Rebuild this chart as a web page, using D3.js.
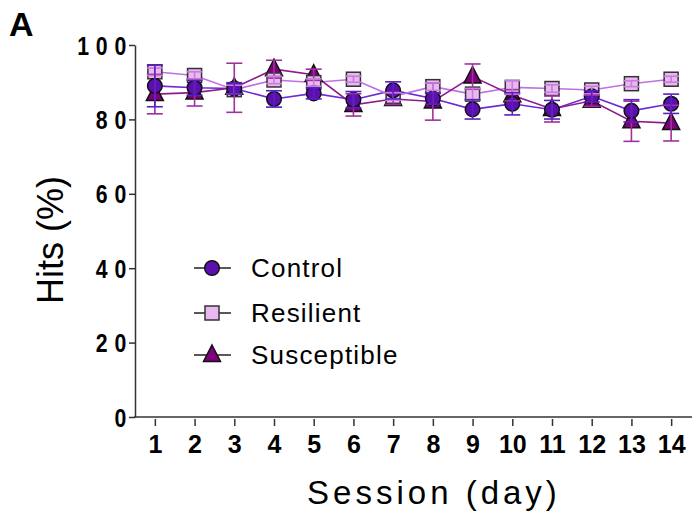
<!DOCTYPE html>
<html><head><meta charset="utf-8">
<script src="https://cdn.jsdelivr.net/npm/d3@7"></script>
<style>body{margin:0;background:#fff}</style>
</head><body><svg id="c" width="692" height="521"></svg>
<script>
const sessions = [1,2,3,4,5,6,7,8,9,10,11,12,13,14];
const yTicks = [0,20,40,60,80,100];
const seriesNames = ["Control","Resilient","Susceptible"];
const controlMean = [89.0, 88.5, 88.3, 85.5, 87.0, 85.3, 87.8, 85.6, 82.7, 84.2, 82.6, 86.2, 82.3, 84.2];
const controlSem  = [5.6, 2.0, 1.5, 2.2, 1.5, 2.2, 2.3, 1.5, 2.6, 3.0, 2.5, 1.5, 3.0, 2.6];
const resilientMean = [92.8, 91.8, 88.0, 90.6, 89.9, 90.8, 86.2, 88.8, 86.8, 88.6, 88.3, 87.9, 89.6, 90.8];
const resilientSem  = [1.0, 1.0, 1.2, 1.0, 1.0, 0.8, 1.0, 1.0, 1.5, 1.8, 1.0, 1.0, 0.8, 0.8];
const susceptibleMean = [86.8, 87.2, 88.5, 93.5, 92.0, 83.9, 85.5, 84.8, 91.5, 86.5, 82.8, 85.0, 79.5, 79.0];
const susceptibleSem  = [5.3, 3.6, 6.6, 2.4, 1.5, 3.0, 1.5, 5.0, 3.4, 1.5, 3.5, 1.5, 5.4, 4.8];

const series = [
  {name:seriesNames[0], mean:controlMean, sem:controlSem, shape:"circle", fill:"#5a0fae", line:"#6a2ad6", err:"#5a1fc0"},
  {name:seriesNames[1], mean:resilientMean, sem:resilientSem, shape:"square", fill:"#e9b8f0", line:"#c070e0", err:"#c77ddb"},
  {name:seriesNames[2], mean:susceptibleMean, sem:susceptibleSem, shape:"triangle", fill:"#7d007d", line:"#8e1a8e", err:"#a0309f"}
];

const FONT = "'Liberation Sans',Arial,Helvetica,sans-serif";
const svg = d3.select("#c");
const x = d3.scaleLinear().domain([0.5,14.5]).range([135,691]);
const y = d3.scaleLinear().domain([0,100]).range([417,45]);

// axes
const yAxis = svg.append("g").attr("transform","translate(135,0)")
  .call(d3.axisLeft(y).tickValues(yTicks).tickSize(6).tickSizeOuter(0));
yAxis.select(".domain").attr("stroke","#333").attr("stroke-width",1.5);
yAxis.selectAll(".tick line").attr("stroke","#333").attr("stroke-width",1.5);
yAxis.selectAll(".tick text").remove();
yAxis.selectAll(".tick").append("text")
  .attr("transform","translate(-2,0) scale(0.85,1)")
  .attr("text-anchor","end").attr("dy","0.36em")
  .attr("font-family",FONT).attr("font-weight","bold").attr("font-size",25)
  .attr("letter-spacing","8px").attr("fill","#000")
  .text(d=>d);

svg.append("line").attr("x1",134).attr("x2",692).attr("y1",417).attr("y2",417).attr("stroke","#333").attr("stroke-width",1.5);
const xAxis = svg.append("g").attr("transform","translate(0,419)")
  .call(d3.axisBottom(x).tickValues(sessions).tickSize(7).tickPadding(9).tickSizeOuter(0));
xAxis.select(".domain").remove();
xAxis.selectAll(".tick line").attr("stroke","#333").attr("stroke-width",1.5);
xAxis.selectAll("text").attr("font-family",FONT)
  .attr("font-weight","bold").attr("font-size",25).attr("fill","#000");

// titles
svg.append("text").attr("transform","translate(63,240) rotate(-90)").attr("text-anchor","middle")
  .attr("font-family",FONT).attr("font-size",36).text("Hits (%)");
svg.append("text").attr("x",434).attr("y",504).attr("text-anchor","middle")
  .attr("font-family",FONT).attr("font-size",33).attr("letter-spacing","4px").text("Session (day)");
svg.append("text").attr("x",9).attr("y",36).attr("font-family",FONT)
  .attr("font-weight","bold").attr("font-size",34).text("A");

function marker(g, shape, cx, cy, fill){
  if(shape==="circle") g.append("circle").attr("cx",cx).attr("cy",cy).attr("r",7.3).attr("fill",fill).attr("stroke","#111").attr("stroke-width",1.5);
  else if(shape==="square") g.append("rect").attr("x",cx-7).attr("y",cy-7).attr("width",14).attr("height",14).attr("fill",fill).attr("stroke","#333").attr("stroke-width",1.5);
  else g.append("path").attr("d",`M${cx},${cy-10}L${cx+8.5},${cy+6.5}L${cx-8.5},${cy+6.5}Z`).attr("fill",fill).attr("stroke","#111").attr("stroke-width",1.5);
}

const line = d3.line().x((d,i)=>x(sessions[i])).y(d=>y(d));
series.forEach(s=>{
  svg.append("path").attr("d",line(s.mean)).attr("fill","none").attr("stroke",s.line).attr("stroke-width",1.6);
});
const order = [2,1,0];
order.forEach(k=>{
  const s = series[k];
  const g = svg.append("g");
  s.mean.forEach((m,i)=>marker(g,s.shape,x(sessions[i]),y(m),s.fill));
});
order.forEach(k=>{
  const s = series[k];
  const g = svg.append("g").attr("stroke",s.err).attr("stroke-width",1.6);
  s.mean.forEach((m,i)=>{
    const cx = x(sessions[i]);
    const t = y(m+s.sem[i]), b = y(m-s.sem[i]);
    g.append("line").attr("x1",cx).attr("x2",cx).attr("y1",t).attr("y2",b);
    g.append("line").attr("x1",cx-8).attr("x2",cx+8).attr("y1",t).attr("y2",t);
    g.append("line").attr("x1",cx-8).attr("x2",cx+8).attr("y1",b).attr("y2",b);
  });
});

// legend
const legY = [268,313,355];
series.forEach((s,i)=>{
  const g = svg.append("g");
  g.append("line").attr("x1",194).attr("x2",231).attr("y1",legY[i]).attr("y2",legY[i]).attr("stroke","#222").attr("stroke-width",1.5);
  marker(g,s.shape,212,legY[i],s.fill);
  g.append("text").attr("x",251).attr("y",legY[i]+9).attr("font-family",FONT)
    .attr("font-size",26).attr("letter-spacing","1.2px").text(s.name);
});
</script></body></html>
